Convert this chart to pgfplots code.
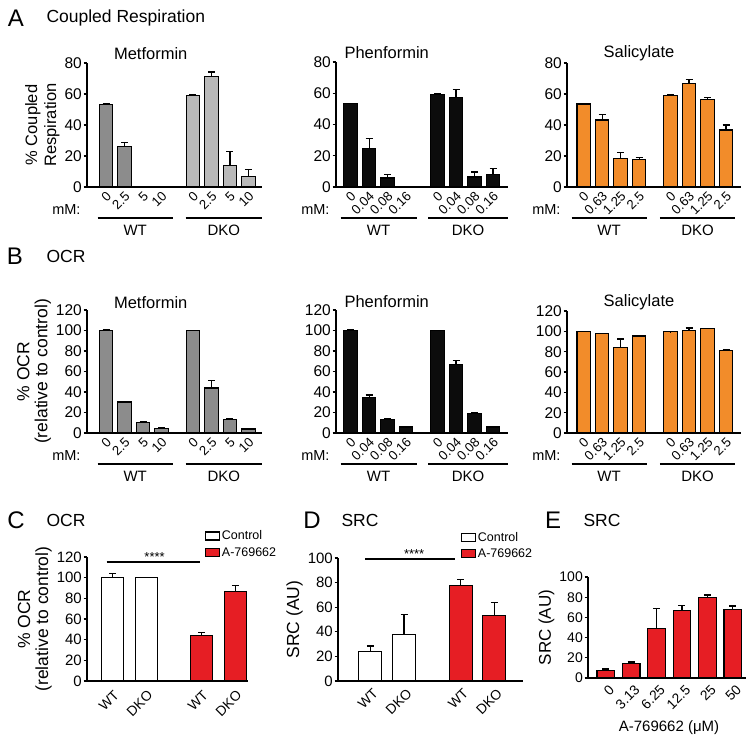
\documentclass[border=0pt]{standalone}
\usepackage{pgfplots}
\pgfplotsset{compat=1.18}
\usepackage{fontspec}
\setmainfont{Liberation Sans}
\definecolor{gA}{RGB}{140,140,140}
\definecolor{gB}{RGB}{185,185,185}
\definecolor{orng}{RGB}{242,140,42}
\definecolor{redd}{RGB}{230,30,36}
\definecolor{blk}{RGB}{12,12,12}
\newcommand{\fs}[2]{\fontsize{#1}{#2}\selectfont}
\pgfplotsset{
 gp/.style={
  scale only axis, axis lines=left, axis line style={-, line width=1.2pt},
  ymin=0, clip=false, ybar, bar shift=0pt,
  tick align=outside, major tick length=3.5pt,
  xtick style={draw=none}, ytick style={line width=1.2pt, black},
  /pgf/number format/assume math mode=true,
  every y tick label/.style={font=\fs{15.5}{18}, inner sep=1.5pt},
  every axis y label/.style={at={(ticklabel cs:0.5)}, rotate=90, anchor=near ticklabel, align=center},
  error bars/y dir=plus, error bars/y explicit,
  error bars/error bar style={line width=1.2pt, black, solid},
  error bars/error mark options={rotate=90, mark size=3.5pt, line width=1.2pt, black},
 },
 bb/.style={fill=#1, draw=black, line width=1.2pt, bar shift=0pt},
 abx/.style={xtick={0,1,2,3,4.7,5.7,6.7,7.7}, xticklabels={}},
 cdx/.style={every x tick label/.style={rotate=45, anchor=north east, inner sep=0pt, font=\fs{13.8}{16}, xshift=#1, yshift=-3.5pt}},
}
\newcommand{\grp}[3]{\draw[line width=2pt] ([yshift=-31pt]axis cs:#1,0) -- node[yshift=-12pt, font=\fs{15}{18}] {#3} ([yshift=-31pt]axis cs:#2,0);}
\newcommand{\mm}{\node[anchor=east, font=\fs{14.5}{17}] at ([xshift=-3pt,yshift=-23pt]rel axis cs:0,0) {mM:};}
\newcommand{\tl}[2]{\node[rotate=45, anchor=north east, inner sep=0pt, font=\fs{13.2}{15}] at ([xshift=-0.5pt,yshift=-3.5pt]axis cs:#1,0) {#2};}
\newcommand{\dose}[4]{\tl{0}{#1}\tl{1}{#2}\tl{2}{#3}\tl{3}{#4}\tl{4.7}{#1}\tl{5.7}{#2}\tl{6.7}{#3}\tl{7.7}{#4}}
\begin{document}
\begin{tikzpicture}
\useasboundingbox (0,0) rectangle (754pt,-743pt);
% ---------- headers ----------
\node[font=\fs{24}{28}] at (16pt,-18pt) {A};
\node[font=\fs{17.5}{20}, anchor=west] at (43pt,-18pt) {Coupled Respiration};
\node[font=\fs{24}{28}] at (15pt,-256pt) {B};
\node[font=\fs{17.5}{20}, anchor=west] at (43pt,-256pt) {OCR};
\node[font=\fs{24}{28}] at (16pt,-520pt) {C};
\node[font=\fs{17.5}{20}, anchor=west] at (43pt,-520pt) {OCR};
\node[font=\fs{24}{28}] at (312pt,-520pt) {D};
\node[font=\fs{17.5}{20}, anchor=west] at (338pt,-520pt) {SRC};
\node[font=\fs{24}{28}] at (553pt,-520pt) {E};
\node[font=\fs{17.5}{20}, anchor=west] at (580pt,-520pt) {SRC};
\node[font=\fs{16.5}{19}] at (150.7pt,-54pt) {Metformin};
\node[font=\fs{16.5}{19}] at (386.7pt,-53pt) {Phenformin};
\node[font=\fs{16.5}{19}] at (639pt,-53pt) {Salicylate};
\node[font=\fs{16.5}{19}] at (150.7pt,-303pt) {Metformin};
\node[font=\fs{16.5}{19}] at (386.7pt,-302pt) {Phenformin};
\node[font=\fs{16.5}{19}] at (639pt,-302pt) {Salicylate};
% ---------- A Metformin ----------
\begin{axis}[gp, abx, at={(87pt,-187pt)}, anchor=south west, width=175pt, height=124pt,
  xmin=-1.03, xmax=8.43, ymax=80, ytick={0,20,...,80}, bar width=13.5pt,
  ylabel={\% Coupled\\Respiration}, ylabel style={font=\fs{16.5}{19}}]
\addplot[bb=gA] table[x=x,y=y,y error=e]{
x y e
0 53.1 0.4
1 26.2 2.6
};
\addplot[bb=gB] table[x=x,y=y,y error=e]{
x y e
4.7 58.9 0.4
5.7 71.4 2.8
6.7 14.0 9.0
7.7 6.9 4.3
};
\dose{0}{2.5}{5}{10}
\grp{-0.45}{3.6}{WT}
\grp{4.3}{8.43}{DKO}
\mm
\end{axis}
% ---------- A Phenformin ----------
\begin{axis}[gp, abx, at={(336pt,-187pt)}, anchor=south west, width=172pt, height=125pt,
  xmin=-0.79, xmax=8.51, ymax=80, ytick={0,20,...,80}, bar width=13.5pt]
\addplot[bb=blk] table[x=x,y=y,y error=e]{
x y e
0 53.3 0.3
1 24.5 6.4
2 5.8 2.3
4.7 59.3 0.3
5.7 57.1 5.4
6.7 6.4 3.2
7.7 8.1 3.8
};
\dose{0}{0.04}{0.08}{0.16}
\grp{-0.54}{3.57}{WT}
\grp{4.19}{8.51}{DKO}
\mm
\end{axis}
% ---------- A Salicylate ----------
\begin{axis}[gp, abx, at={(567pt,-187pt)}, anchor=south west, width=174pt, height=124pt,
  xmin=-0.90, xmax=8.51, ymax=80, ytick={0,20,...,80}, bar width=13.5pt]
\addplot[bb=orng] table[x=x,y=y,y error=e]{
x y e
0 53.6 0.3
1 43.2 3.5
2 18.4 4.1
3 17.9 1.1
4.7 59.0 0.3
5.7 67.0 2.6
6.7 56.2 1.7
7.7 36.8 3.2
};
\dose{0}{0.63}{1.25}{2.5}
\grp{-0.65}{3.4}{WT}
\grp{4.12}{8.2}{DKO}
\mm
\end{axis}
% ---------- B Metformin ----------
\begin{axis}[gp, abx, at={(87pt,-433pt)}, anchor=south west, width=175pt, height=123pt,
  xmin=-1.03, xmax=8.43, ymax=120, ytick={0,20,...,120}, bar width=13.5pt,
  ylabel={\% OCR\\(relative to control)}, ylabel style={font=\fs{17.5}{18}}]
\addplot[bb=gA] table[x=x,y=y,y error=e]{
x y e
0 100 0.6
1 30.3 0.5
2 10.5 0.5
3 4.6 0.5
4.7 100 0.2
5.7 44.0 7.0
6.7 13.0 0.8
7.7 3.9 0.3
};
\dose{0}{2.5}{5}{10}
\grp{-0.45}{3.6}{WT}
\grp{4.3}{8.43}{DKO}
\mm
\end{axis}
% ---------- B Phenformin ----------
\begin{axis}[gp, abx, at={(336pt,-433pt)}, anchor=south west, width=172pt, height=123pt,
  xmin=-0.79, xmax=8.51, ymax=120, ytick={0,20,...,120}, bar width=13.5pt]
\addplot[bb=blk] table[x=x,y=y,y error=e]{
x y e
0 100 0.5
1 34.6 2.5
2 13.4 0.8
3 5.9 0.3
4.7 100 0.2
5.7 66.9 3.5
6.7 18.9 1.3
7.7 5.9 0.3
};
\dose{0}{0.04}{0.08}{0.16}
\grp{-0.54}{3.57}{WT}
\grp{4.19}{8.51}{DKO}
\mm
\end{axis}
% ---------- B Salicylate ----------
\begin{axis}[gp, abx, at={(567pt,-433pt)}, anchor=south west, width=174pt, height=122pt,
  xmin=-0.90, xmax=8.51, ymax=120, ytick={0,20,...,120}, bar width=13.5pt]
\addplot[bb=orng] table[x=x,y=y,y error=e]{
x y e
0 99.5 0.5
1 97.5 0.6
2 84.4 8.1
3 95.5 0.5
4.7 99.5 0.3
5.7 100.7 2.6
6.7 102.6 0.5
7.7 81.0 1.3
};
\dose{0}{0.63}{1.25}{2.5}
\grp{-0.65}{3.4}{WT}
\grp{4.12}{8.2}{DKO}
\mm
\end{axis}
% ---------- C ----------
\begin{axis}[gp, cdx=-3pt, at={(87pt,-681pt)}, anchor=south west, width=161pt, height=124pt,
  xmin=-0.77, xmax=4.04, ymax=120, ytick={0,20,...,120}, bar width=22pt,
  every y tick label/.style={font=\fs{15}{18}, inner sep=1.5pt},
  xtick={0,1,2.66,3.66}, xticklabels={WT,DKO,WT,DKO},
  ylabel={\% OCR\\(relative to control)}, ylabel style={font=\fs{17.5}{18}},
  legend style={at={(0.733,1.225)}, anchor=north west, draw=none, fill=none, inner sep=0pt,
    font=\fs{12.5}{14}, row sep=3pt, nodes={inner sep=1.5pt}},
  legend cell align=left,
  legend image code/.code={\draw[#1, line width=1.2pt] (0pt,-4pt) rectangle (14pt,4pt);}]
\addplot[bb=white] table[x=x,y=y,y error=e]{
x y e
0 100.3 3.9
1 100.0 0.5
};
\addlegendentry{Control}
\addplot[bb=redd] table[x=x,y=y,y error=e]{
x y e
2.66 43.7 3.2
3.66 86.7 5.5
};
\addlegendentry{A-769662}
\draw[line width=1.2pt] (axis cs:-0.18,115.1) -- (axis cs:2.6,115.1);
\node[font=\fs{13}{14}, anchor=base] at (axis cs:1.25,115.8) {****};
\end{axis}
% ---------- D ----------
\begin{axis}[gp, cdx=-1pt, at={(338pt,-681pt)}, anchor=south west, width=185pt, height=123pt,
  xmin=-0.96, xmax=4.53, ymax=100, ytick={0,20,...,100}, bar width=23pt,
  every y tick label/.style={font=\fs{15}{18}, inner sep=1.5pt},
  xtick={0,1,2.68,3.68}, xticklabels={WT,DKO,WT,DKO},
  ylabel={SRC (AU)}, ylabel style={font=\fs{17.5}{19}},
  legend style={at={(0.665,1.225)}, anchor=north west, draw=none, fill=none, inner sep=0pt,
    font=\fs{12.5}{14}, row sep=3pt, nodes={inner sep=1.5pt}},
  legend cell align=left,
  legend image code/.code={\draw[#1, line width=1.2pt] (0pt,-4pt) rectangle (14pt,4pt);}]
\addplot[bb=white] table[x=x,y=y,y error=e]{
x y e
0 23.9 4.6
1 38.0 16.3
};
\addlegendentry{Control}
\addplot[bb=redd] table[x=x,y=y,y error=e]{
x y e
2.68 77.4 4.9
3.68 53.0 11.1
};
\addlegendentry{A-769662}
\draw[line width=1.2pt] (axis cs:-0.15,99.2) -- (axis cs:2.5,99.2);
\node[font=\fs{13}{14}, anchor=base] at (axis cs:1.3,99.8) {****};
\end{axis}
% ---------- E ----------
\begin{axis}[gp, cdx=0pt, at={(588pt,-678pt)}, anchor=south west, width=158pt, height=101pt,
  xmin=-0.7, xmax=5.52, ymax=100, ytick={0,20,...,100}, bar width=17.7pt,
  every y tick label/.style={font=\fs{14}{16}, inner sep=1.5pt},
  xtick={0,1,2,3,4,5}, xticklabels={0,3.13,6.25,12.5,25,50},
  ylabel={SRC (AU)}, ylabel style={font=\fs{17}{19}}]
\addplot[bb=redd] table[x=x,y=y,y error=e]{
x y e
0 7.3 1.6
1 14.2 1.7
2 49.0 19.5
3 66.9 5.0
4 79.8 2.3
5 67.9 3.3
};
\end{axis}
\node[font=\fs{15}{18}] at (669pt,-728pt) {A-769662 (μM)};
\end{tikzpicture}
\end{document}
